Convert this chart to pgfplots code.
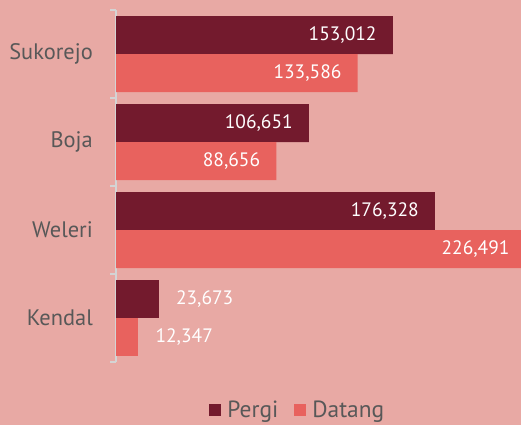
\documentclass[border=0pt]{standalone}
\usepackage{fontspec}
\setmainfont{PT Sans}
\usepackage{pgfplots}
\pgfplotsset{compat=1.18}
\definecolor{bg}{HTML}{E8A9A4}
\definecolor{pergi}{HTML}{731A2D}
\definecolor{datang}{HTML}{E8625E}
\definecolor{lbl}{HTML}{585858}
\definecolor{axl}{HTML}{D4D4D4}
\begin{document}
\begin{tikzpicture}[x=1bp,y=1bp]
\useasboundingbox (0,0) rectangle (521,425);
\fill[bg] (0,0) rectangle (521,425);
\clip (0,0) rectangle (521,425);
\begin{axis}[
  at={(116bp,63bp)}, anchor=south west,
  scale only axis, width=416.04bp, height=352bp,
  xmin=0, xmax=230000, ymin=-0.5, ymax=3.5,
  axis x line=none, axis y line*=left,
  y axis line style={axl, line width=1.5bp},
  ytick={0,1,2,3}, yticklabels={Kendal,Weleri,Boja,Sukorejo},
  major tick length=0pt,
  minor ytick={-0.5,0.5,1.5,2.5,3.5},
  minor tick length=6bp, tick align=outside,
  minor tick style={axl, line width=1.5bp},
  yticklabel style={font=\fontsize{22.5}{26}\selectfont, text=lbl, anchor=east, inner sep=0pt, xshift=-23bp},
  xbar, bar width=38bp,
  point meta=x,
  /pgf/number format/.cd, fixed, precision=0, 1000 sep={,}, assume math mode=true,
  /pgfplots/.cd,
  legend style={at={(0.437,-0.137)}, anchor=center, draw=none, fill=none,
    font=\fontsize{23.5}{27}\selectfont, text=lbl, legend columns=2,
    /tikz/every even column/.append style={column sep=14bp}},
  legend image code/.code={\fill[#1] (0bp,-6bp) rectangle (12bp,6bp); \path (16bp,0bp);},
]
\addplot[fill=pergi, draw=none, bar shift=19bp, nodes near coords,
  every node near coord/.style={font=\fontsize{19.5}{23}\selectfont, text=white, anchor=east, inner sep=0pt, xshift=-16bp, yshift=19bp}]
  coordinates {(153012,3) (106651,2) (176328,1)};
\addlegendentry{Pergi}
\addplot[fill=datang, draw=none, bar shift=-19bp, nodes near coords,
  every node near coord/.style={font=\fontsize{19.5}{23}\selectfont, text=white, anchor=east, inner sep=0pt, xshift=-16bp, yshift=-19bp}]
  coordinates {(133586,3) (88656,2) (226491,1)};
\addlegendentry{Datang}
\addplot[fill=pergi, draw=none, bar shift=19bp, forget plot, nodes near coords,
  every node near coord/.style={font=\fontsize{19.5}{23}\selectfont, text=white, anchor=west, inner sep=0pt, xshift=17bp, yshift=19bp}]
  coordinates {(23673,0)};
\addplot[fill=datang, draw=none, bar shift=-19bp, forget plot, nodes near coords,
  every node near coord/.style={font=\fontsize{19.5}{23}\selectfont, text=white, anchor=west, inner sep=0pt, xshift=17bp, yshift=-19bp}]
  coordinates {(12347,0)};
\end{axis}
\end{tikzpicture}
\end{document}
